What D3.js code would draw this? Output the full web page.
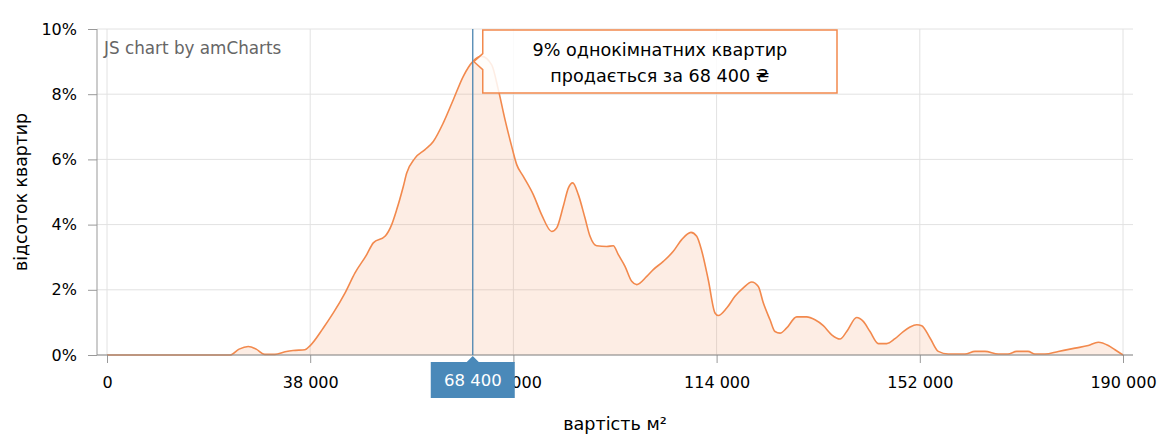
<!DOCTYPE html>
<html><head><meta charset="utf-8">
<script src="https://cdn.jsdelivr.net/npm/d3@7"></script>
<style>
html,body{margin:0;padding:0;background:#fff;}
svg{display:block;font-family:"DejaVu Sans",Verdana,sans-serif;}
</style></head>
<body>
<svg id="chart" width="1175" height="441"></svg>
<script>
// price per m² (UAH)
const prices = [0,23000,24700,26400,27900,29500,31400,33300,34800,37000,38000,40450,42320,44500,46380,48570,49800,51990,53240,54180,55410,56050,57600,59470,61020,62890,64760,66630,68400,70070,71940,73180,74430,75680,76620,77850,79720,81290,83160,84100,85330,86270,87090,88140,89390,90330,91580,93450,94680,95620,96870,98120,99060,100930,102160,104030,105900,107470,109210,110280,111210,112450,113700,114320,115890,117440,118990,120560,121800,122730,123990,124920,125860,127110,128980,130850,132400,133950,135520,137080,138330,140200,141430,142690,144240,145810,147360,148910,150170,151420,152360,153910,155460,157330,160450,162320,164190,166680,168490,170120,172230,173540,175410,177900,181020,183510,185380,187250,188500,190000];
// share of apartments (%)
const shares = [0,0,0.18,0.26,0.18,0.02,0.02,0.10,0.14,0.16,0.29,0.83,1.29,1.90,2.52,3.08,3.44,3.64,4.00,4.46,5.17,5.58,6.04,6.30,6.55,7.12,7.83,8.55,9.00,9.16,8.90,8.14,7.22,6.40,5.84,5.48,4.92,4.30,3.79,3.90,4.56,5.12,5.28,4.92,4.20,3.64,3.35,3.33,3.35,3.08,2.72,2.26,2.16,2.41,2.62,2.87,3.18,3.54,3.76,3.64,3.20,2.30,1.29,1.21,1.44,1.80,2.06,2.24,2.10,1.60,1.08,0.72,0.67,0.83,1.17,1.17,1.08,0.90,0.62,0.49,0.72,1.15,1.03,0.72,0.35,0.35,0.50,0.72,0.86,0.93,0.90,0.52,0.11,0.03,0.03,0.11,0.11,0.03,0.03,0.11,0.11,0.03,0.03,0.11,0.21,0.29,0.39,0.29,0.16,0.00];
const xTicks = [0,38000,76000,114000,152000,190000];
const yTicks = [0,2,4,6,8,10];
const cursorPrice = 68400;
const cursorShare = 9;
const xTitle = "вартість м²";
const yTitle = "відсоток квартир";
const tipLines = ["9% однокімнатних квартир","продається за 68 400 ₴"];
const credit = "JS chart by amCharts";

const data = prices.map((p,i)=>({x:p,y:shares[i]}));
const svg = d3.select("#chart");
const L=97,R=1133,T=29,B=355;
const x = d3.scaleLinear().domain([0,190000]).range([107,1123]);
const y = d3.scaleLinear().domain([0,10]).range([B,T]);
const fmt = v => d3.format(",")(v).replace(/,/g," ");
const orange = "#f2894d";

// grid
svg.append("g").selectAll("line").data(yTicks).join("line")
  .attr("x1",L).attr("x2",R).attr("y1",d=>y(d)).attr("y2",d=>y(d))
  .attr("stroke","#e2e2e2").attr("stroke-width",1);
svg.append("g").selectAll("line").data(xTicks).join("line")
  .attr("x1",d=>x(d)).attr("x2",d=>x(d)).attr("y1",T).attr("y2",B)
  .attr("stroke","#e2e2e2").attr("stroke-width",1);

// area + line
const area = d3.area().x(d=>x(d.x)).y0(B).y1(d=>y(d.y)).curve(d3.curveMonotoneX);
const line = d3.line().x(d=>x(d.x)).y(d=>y(d.y)).curve(d3.curveMonotoneX);
svg.append("path").datum(data).attr("d",area).attr("fill",orange).attr("fill-opacity",0.15);
svg.append("path").datum(data).attr("d",line).attr("fill","none").attr("stroke",orange).attr("stroke-width",1.6);

// axes
const yAxis = d3.axisLeft(y).tickValues(yTicks).tickSize(9).tickSizeOuter(0).tickFormat(d=>d+"%");
const gy = svg.append("g").attr("transform",`translate(${L},0)`).call(yAxis);
gy.select(".domain").remove();
gy.selectAll(".tick line").attr("stroke","#999");
gy.selectAll(".tick text").attr("font-size",16).attr("fill","#000").attr("font-family","DejaVu Sans").attr("x",-20);

const xAxis = d3.axisBottom(x).tickValues(xTicks).tickSize(8).tickSizeOuter(0).tickFormat(fmt);
const gx = svg.append("g").attr("transform",`translate(0,${B})`).call(xAxis);
gx.select(".domain").remove();
gx.selectAll(".tick line").attr("stroke","#999");
gx.selectAll(".tick text").attr("font-size",16).attr("fill","#000").attr("font-family","DejaVu Sans").attr("y",22);

svg.append("line").attr("x1",L).attr("x2",L).attr("y1",T).attr("y2",B).attr("stroke","#999");
svg.append("line").attr("x1",L).attr("x2",R).attr("y1",B).attr("y2",B).attr("stroke","#888");

// titles
svg.append("text").attr("x",(L+R)/2).attr("y",430).attr("text-anchor","middle")
  .attr("font-size",17.6).attr("fill","#000").text(xTitle);
svg.append("text").attr("transform",`translate(27,${(T+B)/2}) rotate(-90)`).attr("text-anchor","middle")
  .attr("font-size",17.3).attr("fill","#000").text(yTitle);

// credit
svg.append("text").attr("x",104).attr("y",54).attr("font-size",16.8).attr("fill","#666").text(credit);

// cursor
const cx = x(cursorPrice);
svg.append("line").attr("x1",cx).attr("x2",cx).attr("y1",T).attr("y2",B).attr("stroke","#4a84b0").attr("stroke-width",1.3);
const bw=84,bh=36,by=362;
svg.append("path").attr("d",`M${cx-bw/2},${by}H${cx-6}L${cx},${by-6}L${cx+6},${by}H${cx+bw/2}V${by+bh}H${cx-bw/2}Z`)
  .attr("fill","#4a89b9");
svg.append("text").attr("x",cx).attr("y",by+bh/2+6).attr("text-anchor","middle")
  .attr("font-size",16.5).attr("fill","#fff").text(fmt(cursorPrice));

// tooltip
const py = y(cursorShare);
const tx0 = cx+10, tx1 = 837, ty0 = 30, ty1 = 93;
svg.append("path").attr("d",`M${tx0},${ty0}H${tx1}V${ty1}H${tx0}V${py+8}L${cx+1},${py}L${tx0},${py-8}Z`)
  .attr("fill","#fff").attr("fill-opacity",0.85).attr("stroke",orange).attr("stroke-width",1.5);
const tcx = (tx0+tx1)/2;
svg.append("text").attr("x",tcx).attr("y",56).attr("text-anchor","middle").attr("font-size",17.6).attr("fill","#000").text(tipLines[0]);
svg.append("text").attr("x",tcx).attr("y",82).attr("text-anchor","middle").attr("font-size",17.6).attr("fill","#000").text(tipLines[1]);
</script>
</body></html>
